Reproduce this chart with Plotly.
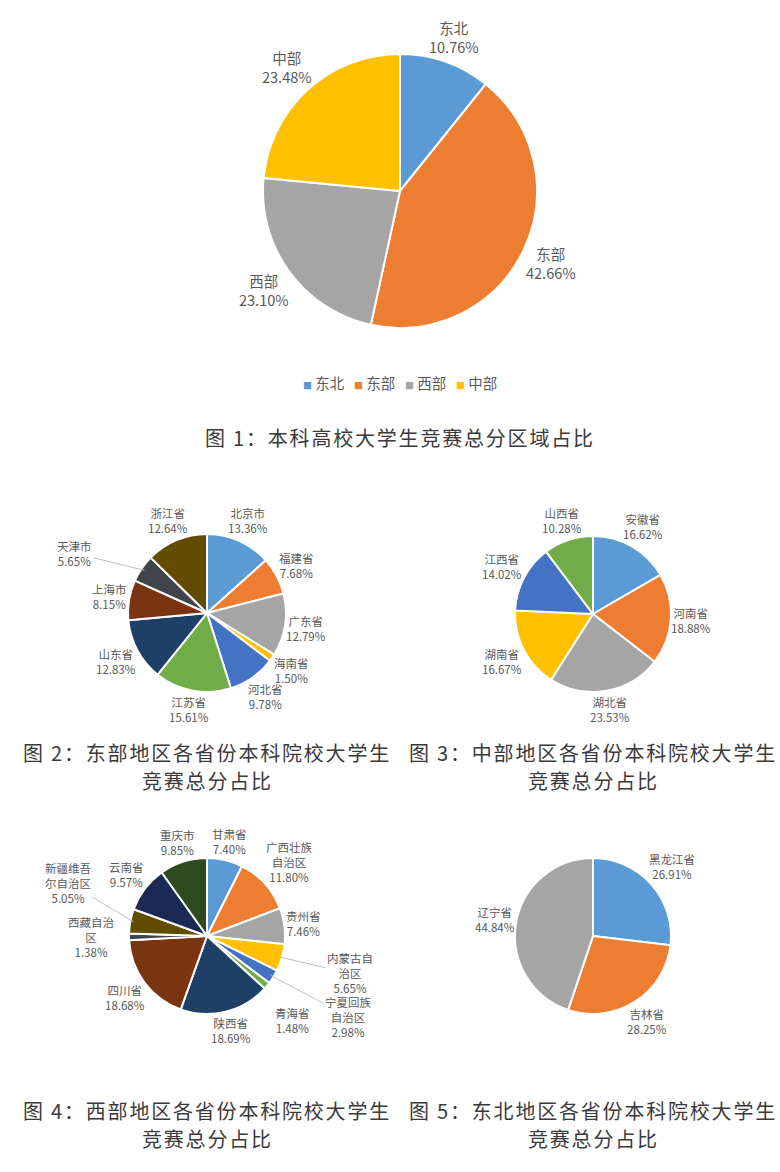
import math
import plotly.graph_objects as go

W, H = 780, 1172

# ---------------- data ----------------
regions = ["东北", "东部", "西部", "中部"]
region_share = [10.76, 42.66, 23.10, 23.48]

east_provinces = ["北京市", "福建省", "广东省", "海南省", "河北省", "江苏省",
                  "山东省", "上海市", "天津市", "浙江省"]
east_share = [13.36, 7.68, 12.79, 1.50, 9.78, 15.61, 12.83, 8.15, 5.65, 12.64]

central_provinces = ["安徽省", "河南省", "湖北省", "湖南省", "江西省", "山西省"]
central_share = [16.62, 18.88, 23.53, 16.67, 14.02, 10.28]

west_provinces = ["甘肃省", "广西壮族自治区", "贵州省", "内蒙古自治区", "宁夏回族自治区",
                  "青海省", "陕西省", "四川省", "西藏自治区", "新疆维吾尔自治区",
                  "云南省", "重庆市"]
west_labels = ["甘肃省", "广西壮族<br>自治区", "贵州省", "内蒙古自<br>治区", "宁夏回族<br>自治区",
               "青海省", "陕西省", "四川省", "西藏自治<br>区", "新疆维吾<br>尔自治区",
               "云南省", "重庆市"]
west_share = [7.40, 11.80, 7.46, 5.65, 2.98, 1.48, 18.69, 18.68, 1.38, 5.05, 9.57, 9.85]

northeast_provinces = ["黑龙江省", "吉林省", "辽宁省"]
northeast_share = [26.91, 28.25, 44.84]

captions = [
    ["图 1：本科高校大学生竞赛总分区域占比"],
    ["图 2：东部地区各省份本科院校大学生", "竞赛总分占比"],
    ["图 3：中部地区各省份本科院校大学生", "竞赛总分占比"],
    ["图 4：西部地区各省份本科院校大学生", "竞赛总分占比"],
    ["图 5：东北地区各省份本科院校大学生", "竞赛总分占比"],
]

# ---------------- styles ----------------
PALETTE = ["#5B9BD5", "#ED7D31", "#A5A5A5", "#FFC000", "#4472C4", "#70AD47",
           "#1F4066", "#7B3410", "#41454B", "#614C00", "#1B2A55", "#2F4A1F"]
LABEL_COLOR = "#595959"
FONT = "Noto Sans CJK SC"

fig = go.Figure()
annotations = []


def text_size(text, fs):
    lines = text.split("<br>")
    w = 0
    for ln in lines:
        cw = sum(fs if ord(ch) > 0x2E80 else fs * 0.56 for ch in ln)
        w = max(w, cw)
    return w, len(lines) * fs * 1.35


def add_pie(labels, values, cx, cy, r, fs, disp=None,
            extra=None, nudge=None, leader=()):
    extra = extra or {}
    nudge = nudge or {}
    disp = disp or labels
    fig.add_trace(go.Pie(
        labels=labels, values=values, sort=False, direction="clockwise",
        rotation=0, textinfo="none", hoverinfo="label+value",
        marker=dict(colors=PALETTE[:len(labels)], line=dict(color="white", width=2)),
        domain=dict(x=[(cx - r) / W, (cx + r) / W], y=[1 - (cy + r) / H, 1 - (cy - r) / H]),
        showlegend=False,
    ))
    total = sum(values)
    cum = 0.0
    for name, d, v in zip(labels, disp, values):
        mid = (cum + v / 2) / total * 2 * math.pi
        cum += v
        s, c = math.sin(mid), math.cos(mid)
        txt = f"{d}<br>{v:.2f}%"
        w, h = text_size(txt, fs)
        dist = r + w / 2 * abs(s) + h / 2 * abs(c) + extra.get(name, 0)
        ang = mid + math.radians(nudge.get(name, 0))
        lx, ly = cx + dist * math.sin(ang), cy - dist * math.cos(ang)
        if name in leader:
            tx, ty = cx + r * 0.96 * s, cy - r * 0.96 * c
            annotations.append(dict(
                x=tx / W, y=1 - ty / H, xref="paper", yref="paper",
                ax=lx - tx, ay=ly - ty, axref="pixel", ayref="pixel",
                showarrow=True, arrowhead=0, arrowwidth=1, arrowcolor="#BFBFBF",
                text=txt, font=dict(family=FONT, size=fs, color=LABEL_COLOR),
                align="center"))
        else:
            annotations.append(dict(
                x=lx / W, y=1 - ly / H, xref="paper", yref="paper",
                xanchor="center", yanchor="middle", showarrow=False,
                text=txt, font=dict(family=FONT, size=fs, color=LABEL_COLOR),
                align="center"))


# Figure 1
add_pie(regions, region_share, 400, 191, 137, 14.5)
# Figure 2
add_pie(east_provinces, east_share, 207, 613, 79, 11.5,
        extra={"天津市": 43}, nudge={"天津市": -10}, leader=("天津市",))
# Figure 3
add_pie(central_provinces, central_share, 593, 614, 78, 11.5)
# Figure 4
add_pie(west_provinces, west_share, 207, 936, 78, 11.5, disp=west_labels,
        extra={"内蒙古自治区": 41, "宁夏回族自治区": 53, "新疆维吾尔自治区": 44,
               "西藏自治区": 15, "青海省": 19},
        nudge={"内蒙古自治区": -1.5, "宁夏回族自治区": -2, "新疆维吾尔自治区": 10,
               "青海省": 5},
        leader=("内蒙古自治区", "宁夏回族自治区", "新疆维吾尔自治区"))
# Figure 5
add_pie(northeast_provinces, northeast_share, 593, 936, 78, 11.5)

# legend of figure 1 (small coloured squares + names)
legend_text = "&nbsp;&nbsp;&nbsp;".join(
    f'<span style="color:{col};font-size:9px">■</span> {name}'
    for name, col in zip(regions, PALETTE))
annotations.append(dict(
    x=400 / W, y=1 - 383 / H, xref="paper", yref="paper",
    xanchor="center", yanchor="middle", showarrow=False,
    text=legend_text, font=dict(family=FONT, size=14.5, color=LABEL_COLOR)))

# captions (one annotation per line)
cap_pos = [(400, 437), (207, 752), (593, 752), (207, 1110), (593, 1110)]
for lines, (x, y) in zip(captions, cap_pos):
    for i, ln in enumerate(lines):
        annotations.append(dict(
            x=x / W, y=1 - (y + 28 * i) / H, xref="paper", yref="paper",
            xanchor="center", yanchor="middle", showarrow=False, align="center",
            text=f'<span style="letter-spacing:1.8px">{ln}</span>',
            font=dict(family=FONT, size=20, color="#3a3a3a")))

fig.update_layout(
    width=W, height=H,
    margin=dict(l=0, r=0, t=0, b=0),
    paper_bgcolor="white", plot_bgcolor="white",
    annotations=annotations,
    showlegend=False,
    font=dict(family=FONT),
)

fig.write_html("out.html", config={"displayModeBar": False},
               post_script="document.body.style.margin='0';")
